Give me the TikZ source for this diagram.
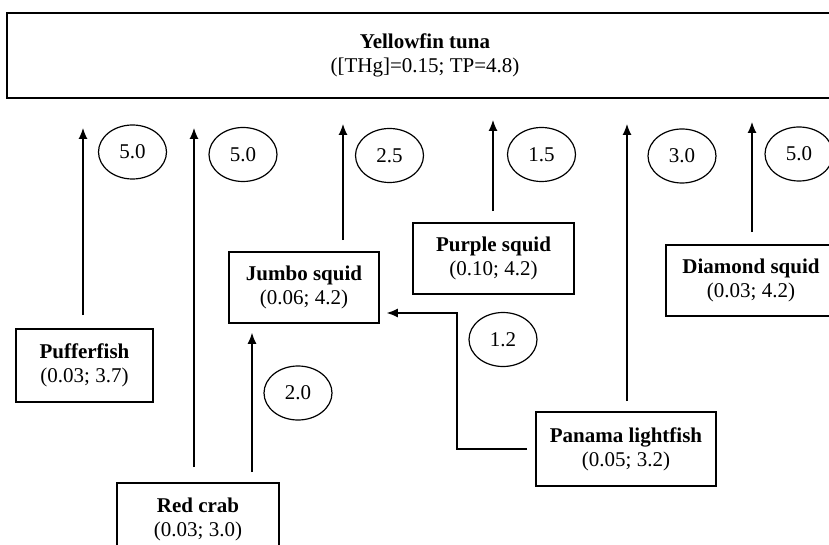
\documentclass[tikz,border=0pt]{standalone}
\usepackage{fontspec}
\setmainfont{Liberation Serif}
\usetikzlibrary{arrows.meta,shapes.geometric}
\tikzset{
  fbox/.style={draw, line width=0.8pt, inner sep=0pt, align=center, font=\fontsize{10.5}{12}\selectfont},
  tbox/.style={fbox, line width=1pt},
  lab/.style={draw, ellipse, line width=0.6pt, inner sep=0pt, minimum width=34pt, minimum height=27pt, font=\fontsize{10.5}{12}\selectfont},
  arr/.style={line width=0.6pt, -{Latex[length=5.5pt,width=4.5pt]}},
}
\begin{document}
\begin{tikzpicture}[x=0.5pt,y=-0.5pt]
\useasboundingbox (0,0) rectangle (829,545);
\clip (0,0) rectangle (829,545);
% nodes
\node[tbox, minimum width=418pt, minimum height=42.5pt] (tuna) at (425,55.5) {\textbf{Yellowfin tuna}\\([THg]=0.15; TP=4.8)};
\node[fbox, minimum width=68.5pt, minimum height=36.5pt] (puff) at (84.5,365.5) {\textbf{Pufferfish}\\(0.03; 3.7)};
\node[fbox, minimum width=81pt, minimum height=36.5pt] (crab) at (198,519.5) {\textbf{Red crab}\\(0.03; 3.0)};
\node[fbox, minimum width=75pt, minimum height=35.5pt] (jumbo) at (304,287.5) {\textbf{Jumbo squid}\\(0.06; 4.2)};
\node[fbox, minimum width=80.5pt, minimum height=35.5pt] (purple) at (493.5,258.5) {\textbf{Purple squid}\\(0.10; 4.2)};
\node[fbox, minimum width=85pt, minimum height=35.5pt] (diamond) at (751,280.5) {\textbf{Diamond squid}\\(0.03; 4.2)};
\node[fbox, minimum width=90pt, minimum height=37pt] (panama) at (626,449) {\textbf{Panama lightfish}\\(0.05; 3.2)};
% labels
\node[lab] (l1) at (132.5,152) {5.0};
\node[lab] (l2) at (243,154.5) {5.0};
\node[lab] (l3) at (389.5,155.5) {2.5};
\node[lab] (l4) at (541.5,154.5) {1.5};
\node[lab] (l5) at (682,156) {3.0};
\node[lab] (l6) at (799,154) {5.0};
\node[lab] (l7) at (503,339.5) {1.2};
\node[lab] (l8) at (298,393) {2.0};
% arrow tips under the tuna box
\coordinate (a1) at (83,128);
\coordinate (a2) at (194,128);
\coordinate (a3) at (343,124);
\coordinate (a4) at (493,120);
\coordinate (a5) at (627,124);
\coordinate (a6) at (752,122);
\coordinate (c7) at (252,0);
\coordinate (k8) at (457,313);
% connectors
\draw[arr] (puff.north -| a1) ++(0,-13) -- (a1);
\draw[arr] (crab.north -| a2) ++(0,-15) -- (a2);
\draw[arr] (jumbo.north -| a3) ++(0,-11) -- (a3);
\draw[arr] (purple.north -| a4) ++(0,-11) -- (a4);
\draw[arr] (panama.north -| a5) ++(0,-10) -- (a5);
\draw[arr] (diamond.north -| a6) ++(0,-12) -- (a6);
\draw[arr] (crab.north -| c7) ++(0,-10) -- ([yshift=-4.5pt]jumbo.south -| c7);
\draw[arr] ([xshift=-4pt]panama.west) -| (k8) -- ([xshift=3.5pt]jumbo.east |- k8);
\end{tikzpicture}
\end{document}
